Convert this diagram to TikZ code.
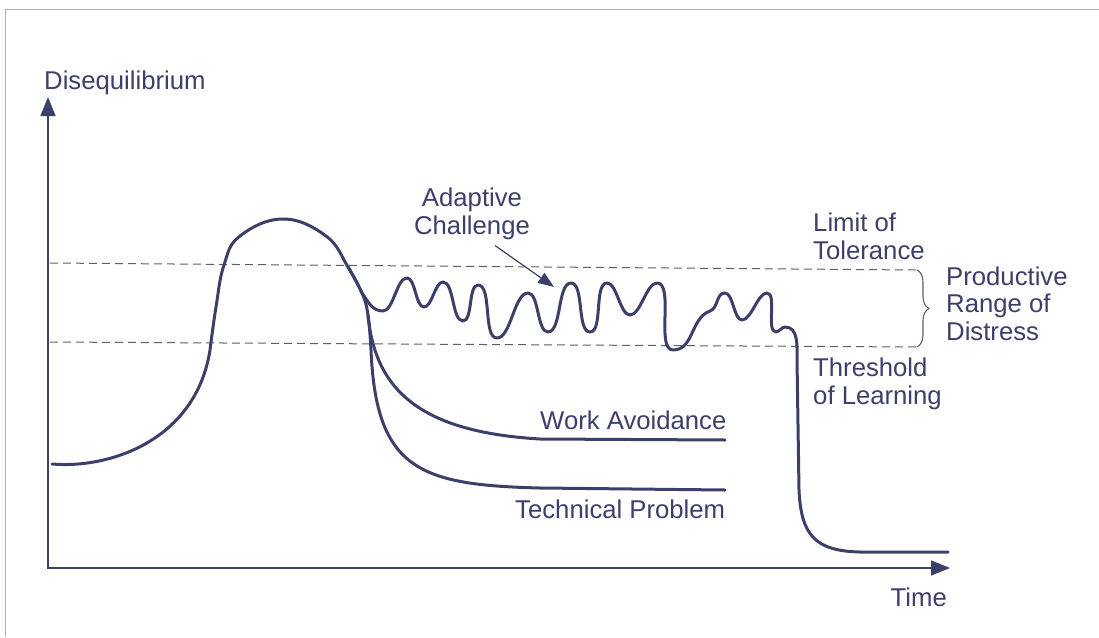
\documentclass[tikz,border=0pt]{standalone}
\usepackage{fontspec}
\setmainfont{Liberation Sans}
\usepackage{tikz}
\usetikzlibrary{arrows.meta,decorations.pathreplacing}
\definecolor{ink}{HTML}{3D3F6B}
\definecolor{rule}{HTML}{5E5E66}

\begin{document}
\begin{tikzpicture}[x=1pt,y=-1pt,
  curve/.style={ink, line width=3pt, line cap=round, line join=round},
  wave/.style={out=0,in=180,looseness=0.65},
  limitline/.style={rule, line width=1pt, dash pattern=on 8pt off 5pt},
  lbl/.style={ink, font=\fontsize{25.7}{27.5}\selectfont, inner sep=0pt, align=left}]
\useasboundingbox (0,0) rectangle (1099,637);
\draw[gray!60, line width=1pt] (5,637) -- (5,9) -- (1099,9);
% axes
\draw[ink, line width=1.5pt, {Triangle[length=19pt,width=15pt]}-{Triangle[length=19pt,width=15pt]}] (48,97) -- (48,568) -- (950,568);
\node[lbl, anchor=base west] (yaxis) at (44,89) {Disequilibrium};
\node[lbl, anchor=base east] (xaxis) at (947,606) {Time};
% limit and threshold
\draw[limitline] (50,263) -- (917,270);
\draw[limitline] (50,342) -- (917,347);
\draw[rule, line width=1.1pt, decorate, decoration={brace, amplitude=12pt}] (917,270) -- (917,347);
\node[lbl, anchor=base west] (limit) at (813,259) {Limit of\\Tolerance};
\node[lbl, anchor=base west] (threshold) at (813,404) {Threshold\\of Learning};
\node[lbl, anchor=base west] (range) at (946,340) {Productive\\Range of\\Distress};
% curves
\draw[curve] (52,464) .. controls (110,469) and (196,440) .. (210,350)
  -- plot[smooth, tension=0.7] coordinates {(210,350) (216,307) (224,265) (240,236) (283,219) (326,236) (348,267) (362,293)}
  to[out=-55,in=180] (383,311) to[wave] (407,278) to[wave] (424,307) to[wave] (443,282) to[wave] (463,321) to[wave] (478,285) to[wave] (497,338)
  to[wave] (528,293) to[wave] (548,332) to[wave] (571,283) to[wave] (590,332) to[wave] (607,283) to[wave] (630,315) to[wave] (657,283) to[wave] (673,350)
  to[out=0,in=200] (710,311) to[out=20,in=180] (725,293) to[wave] (742,320) to[wave] (767,293) to[wave] (776,332) to[wave] (785,327) to[out=0,in=90] (797,360)
  -- (799,490) .. controls (801,535) and (815,551) .. (860,552) -- (948,552);
\draw[curve] plot[smooth, tension=0.7] coordinates {(348,267) (362,293) (368,315) (371,350)} .. controls (376,470) and (420,485) .. (540,488) -- (725,490);
\draw[curve] (368,315) .. controls (375,390) and (420,432) .. (540,439) -- (725,440);
\node[lbl, anchor=base west] (work) at (540,429) {Work Avoidance};
\node[lbl, anchor=base west] (technical) at (515,518) {Technical Problem};
% adaptive challenge
\node[lbl, anchor=base, align=center] (adaptive) at (472,234) {Adaptive\\Challenge};
\coordinate (actip) at (554,287);
\draw[ink, line width=1.2pt, -{Triangle[length=16pt,width=12pt]}] ([xshift=23pt,yshift=-6pt]adaptive.south) -- (actip);
\end{tikzpicture}
\end{document}
